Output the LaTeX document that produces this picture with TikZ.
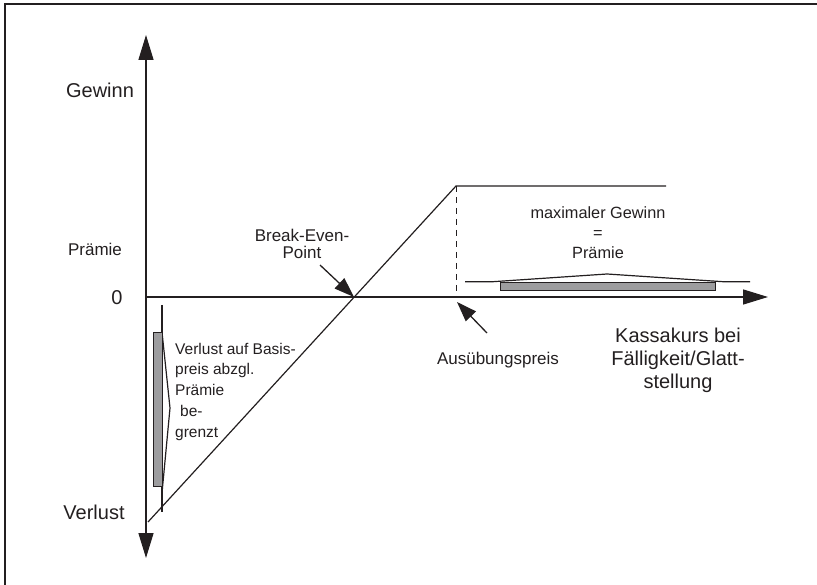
\documentclass[tikz,border=0pt]{standalone}
\usepackage{fontspec}
\setmainfont{Liberation Sans}
\usetikzlibrary{arrows.meta}
\definecolor{ink}{HTML}{231F20}
\definecolor{fillgray}{HTML}{9D9D9F}
\begin{document}
\begin{tikzpicture}[x=1pt,y=-1pt,
  axisline/.style={draw=ink,line width=1.5pt},
  bigtip/.style={-{Triangle[length=25pt,width=15pt]}},
  payoff/.style={draw=ink,line width=1.2pt},
  pointer/.style={draw=ink,line width=1.3pt,-{Triangle[length=20pt,width=14pt]}},
  thinline/.style={draw=ink,line width=1.2pt},
  graybar/.style={fill=fillgray,draw=ink,line width=0.8pt},
  lbl/.style={inner sep=0pt,text=ink,font=\fontsize{17}{20}\selectfont},
  biglbl/.style={inner sep=0pt,text=ink,font=\fontsize{20}{23}\selectfont}]
\useasboundingbox (0,0) rectangle (817,585);
% frame (top and left edges)
\draw[ink,line width=1.5pt] (5,585) -- (5,4) -- (817,4);

% axes
\coordinate (ytop) at (146,35);
\coordinate (ybot) at (146,558);
\coordinate (origin) at (146,297);
\coordinate (xend) at (768,297);
\draw[axisline,{Triangle[length=25pt,width=15pt]}-{Triangle[length=25pt,width=15pt]}] (ybot) -- (ytop);
\draw[axisline,bigtip] (origin) -- (xend);

% payoff
\coordinate (pstart) at (148,522);
\coordinate (pkink) at (456,186);
\coordinate (pend) at (666,186);
\coordinate (strike) at (456,297);
\coordinate (be) at (354,297);
\draw[payoff] (pstart) -- (pkink) -- (pend);
\draw[ink,line width=0.8pt,dash pattern=on 6pt off 5pt] (pkink) -- (strike);

% brace-like marks
\draw[thinline] (465,281.7) -- (493,281.7) -- (607,274) -- (723,281.7) -- (750,281.7);
\draw[graybar] (500,282) rectangle (715,290);
\draw[thinline] (162,305) -- (162,512);
\draw[thinline] (162,332) -- (170,408) -- (162,493);
\draw[graybar] (153,332) rectangle (162,486);

% labels
\node[biglbl] (gewinn) at (100,90) {Gewinn};
\node[lbl] (praemie) at (95,249) {Prämie};
\node[biglbl] (null) at (117,298) {0};
\node[biglbl] (verlust) at (94,512) {Verlust};

\node[lbl,align=center,font=\fontsize{17}{17}\selectfont] (belbl) at (302,243.5) {Break-Even-\\Point};
\coordinate (betail) at (320,265);
\draw[pointer] (betail) -- (be);

\node[lbl,align=center,font=\fontsize{16.3}{20}\selectfont] (maxg) at (598,233) {maximaler Gewinn\\=\\Prämie};

\node[lbl] (ausueb) at (498,360) {Ausübungspreis};
\coordinate (autail) at (487,333);
\coordinate (autip) at (457,302);
\draw[pointer] (autail) -- (autip);

\node[biglbl,align=center] (kassa) at (678,360) {Kassakurs bei\\Fälligkeit/Glatt-\\stellung};

\node[lbl,align=left,anchor=west,font=\fontsize{15.5}{20.75}\selectfont] (vtext) at (175,391.5) {Verlust auf Basis-\\preis abzgl.\\Prämie\\\hspace*{5pt}be-\\grenzt};
\end{tikzpicture}
\end{document}
